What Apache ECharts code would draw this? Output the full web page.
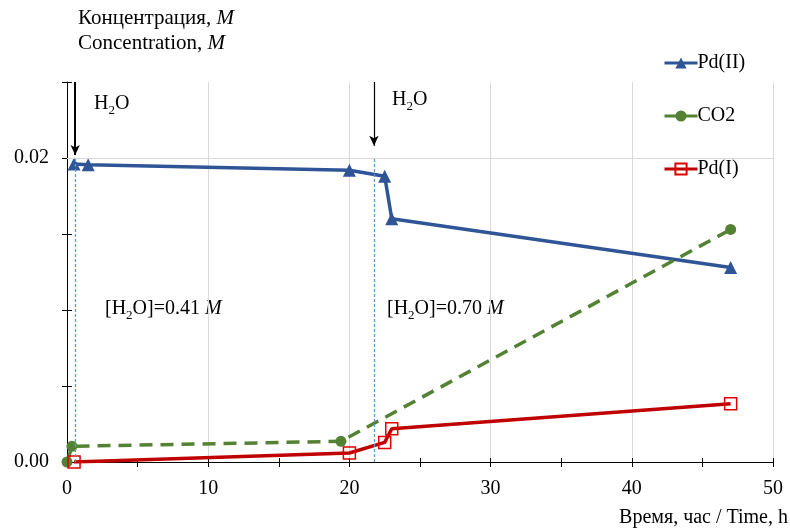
<!DOCTYPE html>
<html><head><meta charset="utf-8">
<script src="https://cdn.jsdelivr.net/npm/echarts@6/dist/echarts.min.js"></script>
<style>html,body{margin:0;padding:0;background:#fff}#c{width:790px;height:528px}</style>
</head><body><div id="c"></div>
<script>
// Data
const pd2X = [0.5, 1.5, 20, 22.5, 23, 47];
const pd2Y = [0.0196, 0.01955, 0.0192, 0.0188, 0.0160, 0.0128];
const co2X = [0, 0.35, 19.4, 47];
const co2Y = [0, 0.00103, 0.00136, 0.0153];
const pd1X = [0.5, 20, 22.5, 23, 47];
const pd1Y = [0, 0.00059, 0.00129, 0.00219, 0.00384];
const seriesNames = ['Pd(II)', 'CO2', 'Pd(I)'];
const xTickLabels = [0, 10, 20, 30, 40, 50];
const yTickLabels = ['0.00', '0.02'];
const waterTimes = [0.58, 21.74];

const FONT = 'Liberation Serif';
const zip = (xs, ys) => xs.map((x, i) => [x, ys[i]]);
const chart = echarts.init(document.getElementById('c'));

const xBase = {type: 'value', min: 0, max: 50, position: 'bottom'};
const yBase = {type: 'value', min: 0, max: 0.025, position: 'left'};
const subRich = {
  a: {fontFamily: FONT, fontSize: 20, lineHeight: 26},
  s: {fontFamily: FONT, fontSize: 13, lineHeight: 13, verticalAlign: 'bottom'},
  i: {fontFamily: FONT, fontSize: 20, lineHeight: 26, fontStyle: 'italic'}
};

chart.setOption({
  animation: false,
  backgroundColor: '#fff',
  grid: {left: 67, right: 17, top: 82, bottom: 66, containLabel: false},
  legend: {
    data: seriesNames, orient: 'vertical', left: 663, top: 53, padding: 0,
    itemWidth: 33, itemHeight: 14, itemGap: 33,
    lineStyle: {width: 3},
    textStyle: {fontFamily: FONT, fontSize: 20, color: '#000', padding: [0, 0, 0, -5]}
  },
  xAxis: [
    Object.assign({}, xBase, {
      interval: 5,
      axisLine: {show: true, lineStyle: {color: '#000', width: 1}},
      axisTick: {show: true, length: 5, lineStyle: {color: '#000'}},
      axisLabel: {margin: 17, fontFamily: FONT, fontSize: 20, color: '#000',
        formatter: v => xTickLabels.includes(v) ? String(v) : ''},
      splitLine: {show: false}
    }),
    Object.assign({}, xBase, {
      interval: 10,
      axisLine: {show: false}, axisTick: {show: false}, axisLabel: {show: false},
      splitLine: {show: true, lineStyle: {color: '#D9D9D9', width: 1}}
    }),
    Object.assign({}, xBase, {
      interval: 5,
      axisLine: {show: false},
      axisTick: {show: true, inside: true, length: 4, lineStyle: {color: '#000'}},
      axisLabel: {show: false}, splitLine: {show: false}
    })
  ],
  yAxis: [
    Object.assign({}, yBase, {
      interval: 0.005,
      axisLine: {show: true, lineStyle: {color: '#000', width: 1}},
      axisTick: {show: true, length: 5, lineStyle: {color: '#000'}},
      axisLabel: {margin: 18, fontFamily: FONT, fontSize: 20, color: '#000',
        formatter: v => {
          const s = v.toFixed(2);
          return (Math.abs(v) < 1e-9 || Math.abs(v - 0.02) < 1e-9) && yTickLabels.includes(s) ? s : '';
        }},
      splitLine: {show: false}
    }),
    Object.assign({}, yBase, {
      interval: 0.005,
      axisLine: {show: false},
      axisTick: {show: true, inside: true, length: 5, lineStyle: {color: '#000'}},
      axisLabel: {show: false}, splitLine: {show: false}
    })
  ],
  series: [
    {
      name: 'helpers', type: 'line', data: [], xAxisIndex: 0, yAxisIndex: 0,
      z: 1,
      markLine: {
        silent: true, symbol: ['none', 'none'], label: {show: false},
        data: [
          [{coord: [0, 0.02], lineStyle: {color: '#D9D9D9', width: 1, type: 'solid'}}, {coord: [50, 0.02]}],
          [{coord: [waterTimes[0], 0], lineStyle: {color: '#5B9BD5', width: 1.3, type: [3, 2]}}, {coord: [waterTimes[0], 0.02]}],
          [{coord: [waterTimes[1], 0], lineStyle: {color: '#5B9BD5', width: 1.3, type: [3, 2]}}, {coord: [waterTimes[1], 0.02]}]
        ]
      }
    },
    {
      name: 'arrows', type: 'line', data: [], xAxisIndex: 0, yAxisIndex: 0,
      z: 5,
      markLine: {
        silent: true, symbol: ['none', 'arrow'], symbolSize: [7, 10], label: {show: false},
        data: [
          [{coord: [waterTimes[0], 0.025], lineStyle: {color: '#000', width: 2, type: 'solid'}}, {coord: [waterTimes[0], 0.0202]}],
          [{coord: [waterTimes[1], 0.025], lineStyle: {color: '#000', width: 1.2, type: 'solid'}, symbolSize: [6, 8]}, {coord: [waterTimes[1], 0.0208]}]
        ]
      }
    },
    {
      name: seriesNames[0], type: 'line', data: zip(pd2X, pd2Y),
      symbol: 'triangle', symbolSize: 13,
      lineStyle: {color: '#2F5597', width: 3.5},
      itemStyle: {color: '#2F5597'}, z: 3
    },
    {
      name: seriesNames[1], type: 'line', data: zip(co2X, co2Y),
      symbol: 'circle', symbolSize: 11,
      lineStyle: {color: '#548235', width: 3.5, type: [13, 8]},
      itemStyle: {color: '#548235'}, z: 3
    },
    {
      name: seriesNames[2], type: 'line', data: zip(pd1X, pd1Y),
      symbol: 'rect', symbolSize: 12,
      lineStyle: {color: '#C00000', width: 3.5},
      itemStyle: {color: 'rgba(0,0,0,0)', borderColor: '#E00000', borderWidth: 1.5}, z: 4
    }
  ],
  graphic: [
    {type: 'text', left: 78, top: 8, style: {
      text: '{a|Концентрация, }{i|M}', fill: '#000',
      rich: {a: {fontFamily: FONT, fontSize: 21}, i: {fontFamily: FONT, fontSize: 21, fontStyle: 'italic'}}}},
    {type: 'text', left: 78, top: 33, style: {
      text: '{a|Concentration, }{i|M}', fill: '#000',
      rich: {a: {fontFamily: FONT, fontSize: 21}, i: {fontFamily: FONT, fontSize: 21, fontStyle: 'italic'}}}},
    {type: 'text', left: 94, top: 94, style: {text: '{a|H}{s|2}{a|O}', fill: '#000', rich: subRich}},
    {type: 'text', left: 392, top: 90, style: {text: '{a|H}{s|2}{a|O}', fill: '#000', rich: subRich}},
    {type: 'text', left: 105, top: 299, style: {text: '{a|[H}{s|2}{a|O]=0.41 }{i|M}', fill: '#000', rich: subRich}},
    {type: 'text', left: 387, top: 299, style: {text: '{a|[H}{s|2}{a|O]=0.70 }{i|M}', fill: '#000', rich: subRich}},
    {type: 'text', right: 2, top: 508, style: {
      text: 'Время, час / Time, h', fill: '#000', fontFamily: FONT, fontSize: 20}}
  ]
});
</script>
</body></html>
